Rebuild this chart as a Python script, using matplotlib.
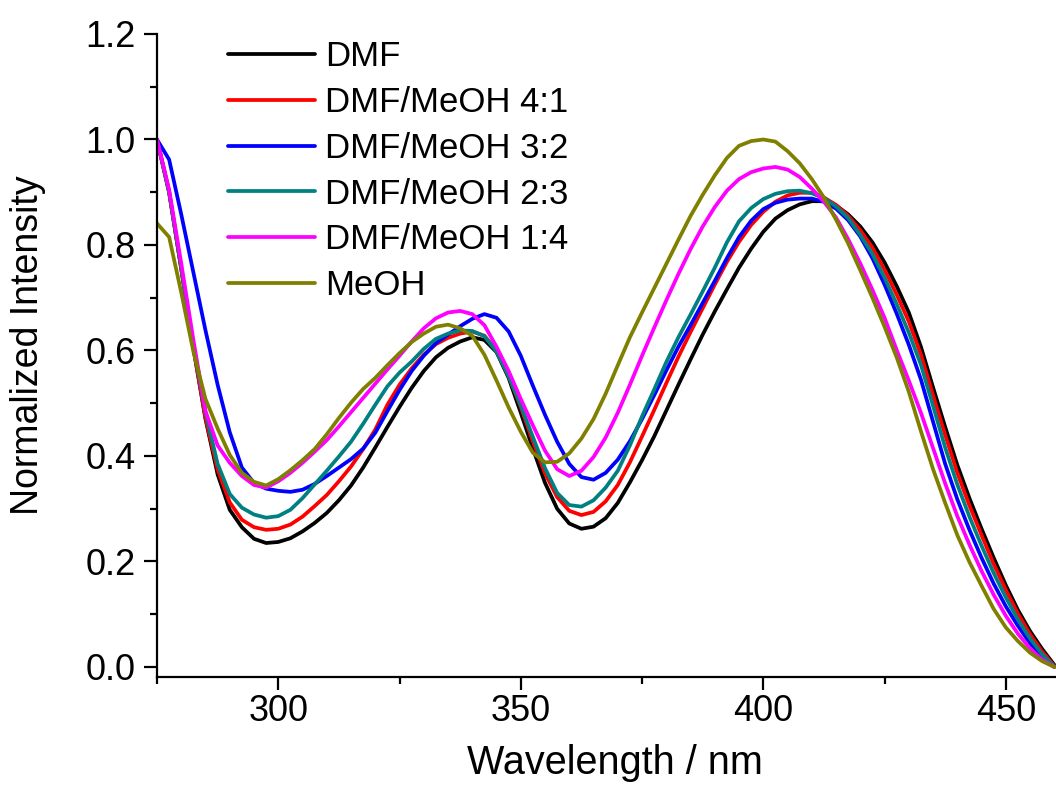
import numpy as np
import matplotlib
matplotlib.use("Agg")
import matplotlib.pyplot as plt
from matplotlib.ticker import MultipleLocator, FormatStrFormatter

plt.rcParams['font.family'] = ['Liberation Sans', 'DejaVu Sans']

# Wavelength sampling (nm), 2.5 nm steps from 275 to 460
wavelength = np.arange(275.0, 460.01, 2.5)

dmf = [1.000, 0.900, 0.755, 0.605, 0.470, 0.365, 0.298, 0.265, 0.243, 0.235,
       0.237, 0.244, 0.257, 0.273, 0.292, 0.316, 0.344, 0.378, 0.416, 0.455,
       0.493, 0.529, 0.561, 0.587, 0.605, 0.617, 0.625, 0.620, 0.597, 0.548,
       0.482, 0.414, 0.349, 0.300, 0.272, 0.262, 0.266, 0.282, 0.311, 0.350,
       0.392, 0.437, 0.486, 0.535, 0.583, 0.630, 0.674, 0.716, 0.757, 0.793,
       0.825, 0.850, 0.866, 0.877, 0.883, 0.883, 0.875, 0.858, 0.835, 0.805,
       0.767, 0.722, 0.672, 0.607, 0.530, 0.455, 0.383, 0.320, 0.262, 0.207,
       0.155, 0.108, 0.068, 0.034, 0.004]

dmf_meoh_41 = [1.000, 0.900, 0.755, 0.605, 0.472, 0.375, 0.312, 0.279, 0.265, 0.260,
               0.262, 0.270, 0.285, 0.305, 0.326, 0.352, 0.380, 0.413, 0.450, 0.497,
               0.535, 0.566, 0.592, 0.612, 0.624, 0.632, 0.636, 0.628, 0.600, 0.552,
               0.493, 0.428, 0.367, 0.322, 0.296, 0.288, 0.294, 0.314, 0.345, 0.388,
               0.437, 0.487, 0.538, 0.588, 0.635, 0.680, 0.725, 0.768, 0.806, 0.838,
               0.863, 0.882, 0.894, 0.899, 0.899, 0.890, 0.876, 0.855, 0.828, 0.795,
               0.753, 0.706, 0.655, 0.592, 0.515, 0.440, 0.368, 0.306, 0.250, 0.195,
               0.146, 0.101, 0.062, 0.029, 0.002]

dmf_meoh_32 = [1.000, 0.962, 0.858, 0.748, 0.638, 0.535, 0.445, 0.378, 0.349, 0.338,
               0.334, 0.332, 0.336, 0.347, 0.362, 0.378, 0.394, 0.414, 0.444, 0.485,
               0.525, 0.561, 0.590, 0.614, 0.630, 0.646, 0.660, 0.669, 0.662, 0.636,
               0.590, 0.533, 0.478, 0.427, 0.385, 0.360, 0.355, 0.368, 0.393, 0.428,
               0.470, 0.515, 0.562, 0.607, 0.648, 0.690, 0.732, 0.775, 0.815, 0.846,
               0.868, 0.880, 0.886, 0.888, 0.888, 0.882, 0.869, 0.847, 0.816, 0.775,
               0.725, 0.670, 0.611, 0.545, 0.465, 0.385, 0.318, 0.260, 0.207, 0.158,
               0.115, 0.078, 0.045, 0.019, 0.000]

dmf_meoh_23 = [1.000, 0.900, 0.757, 0.610, 0.483, 0.385, 0.328, 0.302, 0.289, 0.283,
               0.286, 0.298, 0.320, 0.346, 0.372, 0.399, 0.427, 0.461, 0.497, 0.532,
               0.558, 0.579, 0.603, 0.622, 0.632, 0.638, 0.637, 0.627, 0.598, 0.551,
               0.496, 0.436, 0.377, 0.330, 0.307, 0.304, 0.316, 0.340, 0.372, 0.420,
               0.475, 0.526, 0.578, 0.625, 0.668, 0.712, 0.757, 0.805, 0.845, 0.870,
               0.887, 0.897, 0.902, 0.903, 0.898, 0.889, 0.873, 0.851, 0.819, 0.783,
               0.738, 0.688, 0.634, 0.573, 0.495, 0.416, 0.346, 0.285, 0.230, 0.178,
               0.132, 0.090, 0.054, 0.024, 0.001]

dmf_meoh_14 = [1.000, 0.905, 0.765, 0.620, 0.485, 0.420, 0.387, 0.362, 0.345, 0.340,
               0.352, 0.368, 0.387, 0.408, 0.430, 0.456, 0.483, 0.510, 0.537, 0.564,
               0.590, 0.617, 0.642, 0.661, 0.672, 0.675, 0.669, 0.648, 0.607, 0.561,
               0.508, 0.458, 0.410, 0.375, 0.362, 0.372, 0.398, 0.435, 0.482, 0.535,
               0.590, 0.643, 0.695, 0.745, 0.792, 0.835, 0.872, 0.903, 0.925, 0.938,
               0.945, 0.948, 0.943, 0.929, 0.907, 0.882, 0.852, 0.811, 0.765, 0.715,
               0.662, 0.601, 0.543, 0.482, 0.415, 0.348, 0.286, 0.232, 0.182, 0.137,
               0.097, 0.063, 0.035, 0.014, 0.000]

meoh = [0.841, 0.815, 0.710, 0.598, 0.508, 0.452, 0.402, 0.368, 0.351, 0.344,
        0.356, 0.373, 0.392, 0.413, 0.441, 0.472, 0.501, 0.527, 0.548, 0.572,
        0.595, 0.616, 0.632, 0.645, 0.649, 0.642, 0.628, 0.592, 0.543, 0.492,
        0.446, 0.406, 0.388, 0.389, 0.405, 0.433, 0.470, 0.518, 0.572, 0.625,
        0.672, 0.718, 0.764, 0.810, 0.855, 0.895, 0.932, 0.965, 0.988, 0.997,
        1.000, 0.996, 0.978, 0.955, 0.925, 0.890, 0.848, 0.803, 0.752, 0.700,
        0.645, 0.587, 0.522, 0.447, 0.375, 0.311, 0.250, 0.199, 0.154, 0.110,
        0.075, 0.049, 0.027, 0.011, 0.000]

labels = ["DMF", "DMF/MeOH 4:1", "DMF/MeOH 3:2", "DMF/MeOH 2:3", "DMF/MeOH 1:4", "MeOH"]
colors = ["#000000", "#ff0000", "#0000ff", "#008080", "#ff00ff", "#808000"]
spectra = [dmf, dmf_meoh_41, dmf_meoh_32, dmf_meoh_23, dmf_meoh_14, meoh]

W, H = 1056, 787
fig = plt.figure(figsize=(W / 100, H / 100), dpi=100)
ax = fig.add_axes([157 / W, (H - 677) / H, (W - 157) / W, (677 - 34) / H])

for lab, col, y in zip(labels, colors, spectra):
    ax.plot(wavelength, y, color=col, lw=2.7, label=lab,
            solid_joinstyle="round", solid_capstyle="round")

ax.set_xlim(275, 460.35)
ax.set_ylim(-0.019, 1.2)

ax.xaxis.set_major_locator(MultipleLocator(50))
ax.xaxis.set_minor_locator(MultipleLocator(25))
ax.yaxis.set_major_locator(MultipleLocator(0.2))
ax.yaxis.set_minor_locator(MultipleLocator(0.1))
ax.yaxis.set_major_formatter(FormatStrFormatter("%.1f"))

for side in ("top", "right"):
    ax.spines[side].set_visible(False)
for side in ("left", "bottom"):
    ax.spines[side].set_linewidth(1.6)

ax.tick_params(which="major", direction="out", length=9.5, width=1.6, labelsize=26)
ax.tick_params(which="minor", direction="out", length=5, width=1.6)
ax.tick_params(axis="x", which="major", pad=3)
ax.tick_params(axis="y", which="major", pad=6)

ax.set_xlabel("Wavelength / nm", fontsize=28.5)
ax.set_ylabel("Normalized Intensity", fontsize=27)
ax.xaxis.set_label_coords((615 - 157) / 899, -0.104)
ax.yaxis.set_label_coords((46 - 157) / 899, 0.516)

ax.legend(loc="upper left", bbox_to_anchor=(228 / W, 1 - 40 / H),
          bbox_transform=fig.transFigure, frameon=False, fontsize=25,
          handlelength=2.5, handletextpad=0.29, labelspacing=0.37,
          borderpad=0, borderaxespad=0)

fig.savefig("out.png", dpi=100)
